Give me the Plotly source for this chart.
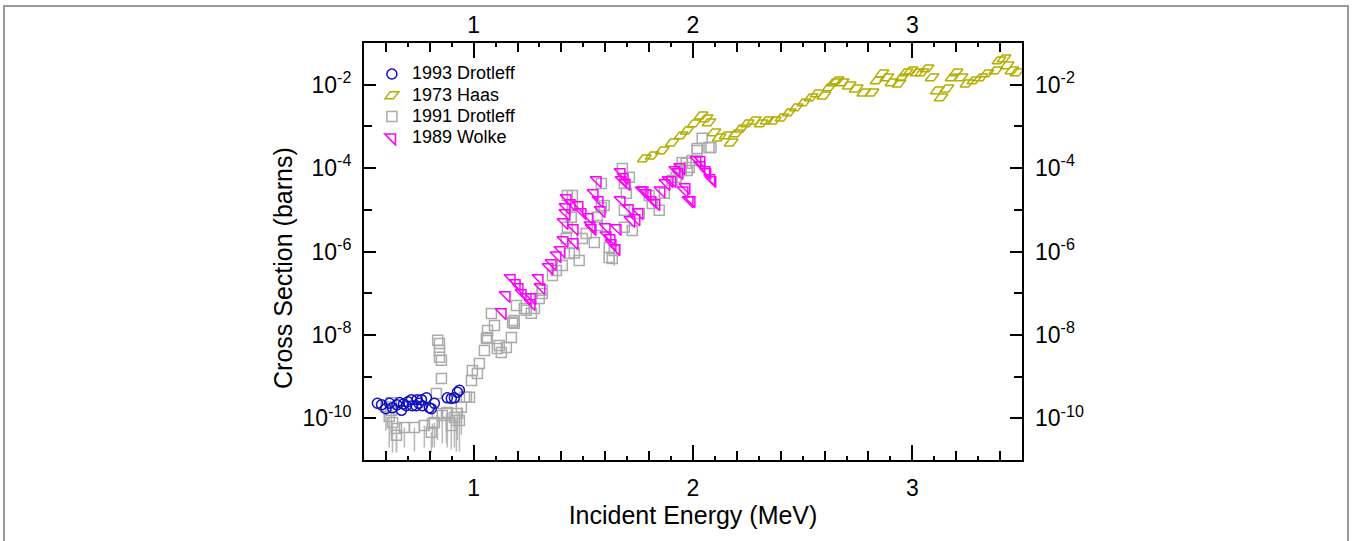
import plotly.graph_objects as go

# ---------------- data (Incident energy in MeV, cross section in barns) ----------------
drot93_E = [0.561, 0.580, 0.600, 0.616, 0.630, 0.650, 0.662, 0.671, 0.680, 0.693, 0.700,
            0.716, 0.720, 0.738, 0.742, 0.750, 0.762, 0.766, 0.785, 0.798, 0.807, 0.821,
            0.880, 0.898, 0.912, 0.926, 0.935]
drot93_sigma = [2.3e-10, 2.1e-10, 1.7e-10, 2.3e-10, 1.8e-10, 2.1e-10, 2.4e-10, 1.55e-10, 2.2e-10, 2.0e-10, 2.5e-10,
                2.8e-10, 2.0e-10, 2.0e-10, 2.8e-10, 2.3e-10, 2.8e-10, 2.0e-10, 3.1e-10, 1.8e-10, 1.7e-10, 2.3e-10,
                3.1e-10, 3.0e-10, 3.1e-10, 4.2e-10, 4.7e-10]

haas_E = [1.778, 1.814, 1.860, 1.905, 1.946, 1.973, 2.005, 2.037, 2.060, 2.073, 2.096, 2.119,
          2.151, 2.174, 2.197, 2.220, 2.247, 2.279, 2.311, 2.338, 2.370, 2.406, 2.438, 2.470,
          2.506, 2.538, 2.566, 2.597, 2.620, 2.643, 2.657, 2.680, 2.712, 2.744, 2.779, 2.816,
          2.839, 2.862, 2.884, 2.907, 2.939, 2.953, 2.971, 2.994, 3.022, 3.044, 3.067, 3.090,
          3.113, 3.131, 3.158, 3.181, 3.199, 3.222, 3.249, 3.281, 3.313, 3.340, 3.381, 3.395,
          3.418, 3.432, 3.454, 3.477]
haas_sigma = [1.71e-4, 2.01e-4, 2.66e-4, 4.1e-4, 6.1e-4, 8.0e-4, 1.18e-3, 1.83e-3, 1.56e-3, 1.25e-3, 7.2e-4, 5.4e-4,
              6.1e-4, 4.1e-4, 6.8e-4, 8.9e-4, 1.18e-3, 1.39e-3, 1.18e-3, 1.39e-3, 1.39e-3, 1.64e-3, 2.17e-3, 2.85e-3,
              3.76e-3, 4.96e-3, 6.2e-3, 5.5e-3, 8.6e-3, 1.14e-2, 1.27e-2, 1.14e-2, 9.6e-3, 8.1e-3, 6.5e-3, 6.5e-3,
              1.27e-2, 1.87e-2, 1.5e-2, 1.14e-2, 1.07e-2, 1.5e-2, 1.97e-2, 2.2e-2, 1.97e-2, 1.97e-2, 2.46e-2, 1.5e-2,
              7.3e-3, 4.96e-3, 8.1e-3, 1.5e-2, 1.97e-2, 1.5e-2, 1.07e-2, 1.27e-2, 1.5e-2, 1.87e-2, 2.2e-2, 3.83e-2,
              4.27e-2, 2.9e-2, 2.2e-2, 1.97e-2]

drot91_E = [0.600, 0.615, 0.625, 0.625, 0.630, 0.648, 0.648, 0.684, 0.730, 0.775, 0.807, 0.812, 0.821,
            0.830, 0.835, 0.857, 0.876, 0.880, 0.898, 0.912, 0.921, 0.926, 0.935, 0.944, 0.958, 0.967,
            0.836, 0.844, 0.844, 0.844, 0.853, 0.853,
            0.981, 0.990, 0.994, 1.017, 1.026, 1.049, 1.058, 1.063, 1.063, 1.081, 1.095, 1.108, 1.117,
            1.126, 1.149, 1.172, 1.177, 1.185, 1.185, 1.195, 1.231, 1.240, 1.263, 1.277, 1.299, 1.313,
            1.313, 1.359, 1.377, 1.404, 1.422, 1.427, 1.427, 1.436, 1.445, 1.450, 1.450, 1.459, 1.481,
            1.495, 1.513, 1.550, 1.564, 1.564, 1.582, 1.582, 1.595, 1.618, 1.618, 1.632, 1.641, 1.678,
            1.687, 1.687, 1.687, 1.696, 1.710, 1.723, 1.755, 1.800, 1.814, 1.846, 1.869, 1.905, 1.923,
            1.937, 1.946, 1.951, 1.969, 1.974, 1.983, 1.996, 2.019, 2.019, 2.042, 2.073, 2.082]
drot91_sigma = [1.9e-10, 1.1e-10, 2.4e-10, 1.55e-10, 7.9e-11, 5.7e-11, 3.9e-11, 6.0e-11, 6.0e-11, 6.7e-11, 4.6e-11, 7.5e-11, 7.9e-11,
                3.95e-10, 1.31e-10, 1.17e-10, 1.3e-10, 1.38e-10, 6.7e-11, 1.05e-10, 8.9e-11, 1.31e-10, 8.9e-11, 1.83e-10, 3.2e-10, 3.2e-10,
                7.4e-9, 6.25e-9, 4.25e-9, 2.9e-9, 2.45e-9, 9.0e-10,
                3.2e-10, 8.1e-10, 1.41e-9, 1.19e-9, 2.07e-9, 4.25e-9, 8.2e-9, 8.7e-9, 1.28e-8, 3.28e-8, 1.69e-8, 4.7e-9, 5.6e-9,
                3.8e-9, 5.0e-9, 8.7e-9, 2.0e-8, 2.23e-8, 1.89e-8, 5.1e-8, 4.3e-8, 3.9e-8, 3.3e-8, 4.3e-8, 7.5e-8, 9.9e-8,
                1.17e-7, 2.67e-7, 3.5e-7, 4.6e-7, 2.06e-6, 3.8e-6, 2.2e-5, 9.0e-7, 6.6e-6, 1.27e-5, 2.2e-5, 9.2e-7, 6.1e-7,
                2.06e-6, 2.7e-6, 1.65e-6, 4.2e-6, 6.6e-6, 1.14e-5, 4.3e-5, 1.27e-5, 1.25e-6, 7.2e-7, 6.8e-7, 1.06e-6, 9.8e-5,
                4.3e-5, 9.7e-6, 3.8e-6, 2.5e-5, 6.0e-5, 3.2e-6, 8.2e-6, 2.2e-5, 1.42e-5, 9.7e-6, 2.5e-5, 5.1e-5, 6.0e-5,
                9.8e-5, 8.8e-5, 1.37e-4, 1.3e-4, 8.8e-5, 1.04e-4, 1.53e-4, 2.66e-4, 2.96e-4, 5.2e-4, 3.1e-4, 3.1e-4]
# lower end of the error bar (None = no visible error bar)
drot91_sigma_low = [5e-11, 2.0e-11, None, 4e-11, 1.5e-11, 1.6e-11, 1.5e-11, 2.0e-11, 1.6e-11, 2.0e-11, 1.5e-11, 2.0e-11, 2.0e-11,
                    None, 3e-11, 2.5e-11, 2.5e-11, 2.0e-11, 1.8e-11, 2.0e-11, 1.6e-11, 3e-11, 1.6e-11, 4e-11, None, None,
                    None, None, None, None, None, None,
                    None, None, None, None, None, None, None, None, None, None, None, None, None,
                    None, None, None, None, None, None, None, None, None, None, None, None, None,
                    None, None, None, None, None, None, None, None, None, None, None, None, None,
                    None, None, None, None, None, None, None, None, None, None, None, 4.5e-7, None,
                    None, None, None, None, None, None, None, None, None, None, None, None, None,
                    None, None, None, None, None, None, None, None, None, None, None, None]

wolke_E = [1.131, 1.149, 1.172, 1.195, 1.208, 1.222, 1.245, 1.267, 1.263, 1.299, 1.308, 1.345, 1.359,
           1.381, 1.399, 1.413, 1.413, 1.422, 1.422, 1.427, 1.445, 1.459, 1.459, 1.481, 1.495, 1.527,
           1.536, 1.541, 1.550, 1.564, 1.573, 1.582, 1.605, 1.609, 1.627, 1.632, 1.650, 1.655, 1.673,
           1.673, 1.678, 1.687, 1.696, 1.710, 1.718, 1.741, 1.755, 1.769, 1.778, 1.791, 1.814, 1.832,
           1.855, 1.878, 1.892, 1.905, 1.923, 1.937, 1.946, 1.960, 1.969, 1.983, 1.992, 2.019, 2.037,
           2.037, 2.060, 2.064, 2.082, 2.087]
wolke_sigma = [3.46e-8, 8.9e-8, 2.26e-7, 1.72e-7, 1.38e-7, 9.9e-8, 7.9e-8, 7.9e-8, 5.7e-8, 2.26e-7, 1.38e-7, 4.15e-7, 5.2e-7,
               8.0e-7, 1.06e-6, 1.85e-6, 5.0e-6, 8.2e-6, 1.14e-5, 1.88e-5, 1.42e-5, 3.6e-6, 1.65e-6, 1.27e-5, 8.7e-6, 6.6e-6,
               4.2e-6, 3.6e-6, 2.47e-5, 5.1e-5, 1.68e-5, 9.7e-6, 3.8e-6, 2.4e-6, 2.06e-6, 1.56e-6, 1.19e-6, 3.6e-6, 1.68e-5,
               7.9e-5, 5.1e-5, 6.0e-5, 4.3e-5, 1.08e-5, 5.6e-6, 6.2e-6, 8.7e-6, 2.9e-5, 2.9e-5, 2.47e-5, 1.68e-5, 1.42e-5,
               2.9e-5, 4.3e-5, 5.1e-5, 5.1e-5, 8.8e-5, 7.9e-5, 1.04e-4, 2.9e-5, 3.45e-5, 1.68e-5, 1.68e-5, 1.53e-4, 1.16e-4,
               1.53e-4, 8.8e-5, 7.9e-5, 5.7e-5, 5.1e-5]

x_major = [1, 2, 3]
x_labels = ["1", "2", "3"]
x_minor = [0.6, 0.8, 1.2, 1.4, 1.6, 1.8, 2.2, 2.4, 2.6, 2.8, 3.2, 3.4]
x_fine = [0.7, 0.9, 1.1, 1.3, 1.5, 1.7, 1.9, 2.1, 2.3, 2.5, 2.7, 2.9, 3.1, 3.3]
y_major = [1e-10, 1e-8, 1e-6, 1e-4, 1e-2]
y_labels = ["10<sup>-10</sup>", "10<sup>-8</sup>", "10<sup>-6</sup>", "10<sup>-4</sup>", "10<sup>-2</sup>"]
y_minor = [1e-9, 1e-7, 1e-5, 1e-3]

# ---------------- figure ----------------
FONT = "Liberation Sans, Arial, sans-serif"
LEG = '<span style="font-size:18px">{}</span>'
fig = go.Figure()

err_minus = [s - l if l is not None else 0 for s, l in zip(drot91_sigma, drot91_sigma_low)]

fig.add_trace(go.Scatter(
    x=drot91_E, y=drot91_sigma, mode="markers", name=LEG.format("1991 Drotleff"),
    marker=dict(symbol="square-open", size=10, color="#ababab", line=dict(width=1.5)),
    error_y=dict(type="data", symmetric=False, array=[0] * len(err_minus), arrayminus=err_minus,
                 color="#b8b8b8", thickness=1.5, width=0),
    legendrank=3))
fig.add_trace(go.Scatter(
    x=wolke_E, y=wolke_sigma, mode="markers", name=LEG.format("1989 Wolke"),
    marker=dict(symbol="triangle-ne-open", size=12, color="#ff00ff", line=dict(width=1.5)),
    legendrank=4))
fig.add_trace(go.Scatter(
    x=haas_E, y=haas_sigma, mode="markers", name=LEG.format("1973 Haas"),
    marker=dict(symbol="diamond-wide-open", size=11, angle=-26.57, color="#b3ae00", line=dict(width=1.5)),
    legendrank=2))
fig.add_trace(go.Scatter(
    x=drot93_E, y=drot93_sigma, mode="markers", name=LEG.format("1993 Drotleff"),
    marker=dict(symbol="circle-open", size=10, color="#1010c0", line=dict(width=1.5)),
    legendrank=1))
# invisible helper traces so the mirrored axes (top labels / right labels / fine ticks) are drawn
fig.add_trace(go.Scatter(x=haas_E, y=haas_sigma, xaxis="x2", yaxis="y2", mode="markers",
                         marker=dict(opacity=0), showlegend=False, hoverinfo="skip"))
fig.add_trace(go.Scatter(x=haas_E, y=haas_sigma, xaxis="x3", yaxis="y", mode="markers",
                         marker=dict(opacity=0), showlegend=False, hoverinfo="skip"))

tickfont = dict(family=FONT, size=23, color="black")
fig.update_layout(
    width=1352, height=541,
    margin=dict(l=364, r=330, t=43, b=81),
    paper_bgcolor="white", plot_bgcolor="white",
    font=dict(family=FONT, color="black"),
    showlegend=True,
    legend=dict(x=0.012, y=0.963, xanchor="left", yanchor="top", bgcolor="rgba(0,0,0,0)",
                font=dict(family=FONT, size=14), tracegroupgap=0, itemwidth=30),
    xaxis=dict(range=[0.5, 3.5], tickmode="array", tickvals=x_major, ticktext=x_labels,
               ticks="inside", ticklen=15, tickwidth=2, tickcolor="black",
               minor=dict(tickmode="array", tickvals=x_minor, ticks="inside", ticklen=9, tickwidth=2, tickcolor="black"),
               showline=True, linewidth=2, linecolor="black", mirror="ticks",
               showgrid=False, zeroline=False, tickfont=tickfont, ticklabelstandoff=6,
               title=dict(text="Incident Energy (MeV)", font=dict(family=FONT, size=25), standoff=7)),
    xaxis2=dict(range=[0.5, 3.5], overlaying="x", side="top", tickmode="array",
                tickvals=x_major, ticktext=x_labels, ticks="",
                showline=False, showgrid=False, zeroline=False, tickfont=tickfont, ticklabelstandoff=4),
    xaxis3=dict(range=[0.5, 3.5], overlaying="x", side="bottom", tickmode="array",
                tickvals=x_fine, showticklabels=False,
                ticks="inside", ticklen=4, tickwidth=2, tickcolor="black", mirror="ticks",
                showline=False, showgrid=False, zeroline=False),
    yaxis=dict(type="log", range=[-11, -1], tickmode="array", tickvals=y_major, ticktext=y_labels,
               ticks="inside", ticklen=12, tickwidth=2, tickcolor="black",
               minor=dict(tickmode="array", tickvals=y_minor, ticks="inside", ticklen=8, tickwidth=2, tickcolor="black"),
               showline=True, linewidth=2, linecolor="black", mirror="ticks",
               showgrid=False, zeroline=False, tickfont=tickfont, ticklabelstandoff=6),
    yaxis2=dict(type="log", range=[-11, -1], overlaying="y", side="right", tickmode="array",
                tickvals=y_major, ticktext=y_labels, ticks="", showline=False, showgrid=False,
                zeroline=False, tickfont=tickfont, ticklabelstandoff=12),
    annotations=[dict(text="Cross Section (barns)", textangle=-90, showarrow=False,
                      xref="paper", yref="paper", x=(283 - 364) / 658, y=1 - (268 - 43) / 417,
                      xanchor="center", yanchor="middle", font=dict(family=FONT, size=25))],
    shapes=[dict(type="rect", xref="paper", yref="paper",
                 x0=(4 - 364) / 658, x1=(1348 - 364) / 658,
                 y0=-0.3, y1=1 + (43 - 6) / 417,
                 line=dict(color="#7a7a7a", width=1.5), fillcolor="rgba(0,0,0,0)", layer="below")],
)

fig.write_html("out.html")
